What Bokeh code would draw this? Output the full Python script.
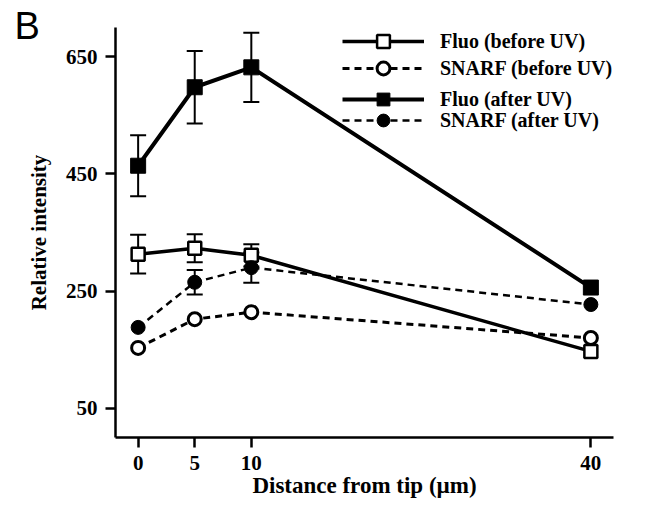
from bokeh.plotting import figure
from bokeh.models import (ColumnDataSource, Whisker, TeeHead, Legend, LegendItem,
                          FixedTicker, Range1d)
from bokeh.embed import file_html
from bokeh.resources import INLINE

# ---- data ----
distance = [0, 5, 10, 40]
fluo_before = [313, 323, 311, 147]
fluo_before_err = [33, 24, 19, 0]
snarf_before = [153, 202, 214, 170]
fluo_after = [464, 598, 632, 256]
fluo_after_err = [52, 62, 59, 0]
snarf_after = [188, 265, 290, 227]
snarf_after_err = [0, 21, 26, 0]

x_ticks = [0, 5, 10, 40]
y_ticks = [50, 250, 450, 650]

labels = ["Fluo (before UV)", "SNARF (before UV)", "Fluo (after UV)", "SNARF (after UV)"]

FONT = "Liberation Serif"

p = figure(width=652, height=509, output_backend="svg", toolbar_location=None,
           x_range=Range1d(-2, 42), y_range=Range1d(0, 700),
           min_border_left=115, min_border_right=39, min_border_top=27,
           min_border_bottom=72)
p.outline_line_color = None
p.grid.visible = False
p.background_fill_color = "white"

# panel letter as the title
p.title.text = "B"
p.title.align = "left"
p.title.offset = -101
p.title.standoff = -38
p.title.text_font = "Liberation Sans"
p.title.text_font_style = "normal"
p.title.text_font_size = "38px"
p.title.text_color = "black"

for ax in (p.xaxis[0], p.yaxis[0]):
    ax.axis_line_width = 2.5
    ax.axis_line_color = "black"
    ax.major_tick_line_width = 2.5
    ax.major_tick_in = 0
    ax.major_tick_out = 10
    ax.minor_tick_line_color = None
    ax.major_label_text_font = FONT
    ax.major_label_text_font_style = "bold"
    ax.major_label_text_font_size = "21px"
    ax.major_label_text_color = "black"
    ax.axis_label_text_font = FONT
    ax.axis_label_text_font_style = "bold"
    ax.axis_label_text_color = "black"

p.xaxis.axis_label_text_font_size = "23px"
p.yaxis.axis_label_text_font_size = "21px"
p.xaxis.ticker = FixedTicker(ticks=x_ticks)
p.yaxis.ticker = FixedTicker(ticks=y_ticks)
p.xaxis.axis_label = "Distance from tip (µm)"
p.yaxis.axis_label = "Relative intensity"
p.xaxis.major_label_standoff = 8
p.yaxis.major_label_standoff = 8
p.xaxis.axis_label_standoff = 0
p.yaxis.axis_label_standoff = 12


def add_errors(y, err):
    xs = [x for x, e in zip(distance, err) if e > 0]
    lo = [v - e for v, e in zip(y, err) if e > 0]
    hi = [v + e for v, e in zip(y, err) if e > 0]
    src = ColumnDataSource(dict(x=xs, lower=lo, upper=hi))
    w = Whisker(source=src, base="x", lower="lower", upper="upper",
                line_width=2, line_color="black",
                upper_head=TeeHead(size=16, line_width=2, line_color="black"),
                lower_head=TeeHead(size=16, line_width=2, line_color="black"))
    p.add_layout(w)


add_errors(fluo_after, fluo_after_err)
add_errors(fluo_before, fluo_before_err)
add_errors(snarf_after, snarf_after_err)

# lines
l_fb = p.line(distance, fluo_before, line_width=3.5, line_color="black")
l_sb = p.line(distance, snarf_before, line_width=3, line_color="black", line_dash="7 5")
l_fa = p.line(distance, fluo_after, line_width=4, line_color="black")
l_sa = p.line(distance, snarf_after, line_width=2.5, line_color="black", line_dash="7 5")

# markers
m_fb = p.scatter(distance, fluo_before, marker="square", size=13, fill_color="white",
                 line_color="black", line_width=2.5)
m_sb = p.scatter(distance, snarf_before, marker="circle", size=13, fill_color="white",
                 line_color="black", line_width=3)
m_fa = p.scatter(distance, fluo_after, marker="square", size=15, fill_color="black",
                 line_color="black", line_width=1)
m_sa = p.scatter(distance, snarf_after, marker="circle", size=14, fill_color="black",
                 line_color="black", line_width=1)


def make_legend(item, loc):
    lg = Legend(items=[item], location=loc, orientation="vertical",
                glyph_width=82, glyph_height=32, spacing=0,
                label_standoff=16, padding=0, margin=0,
                border_line_color=None, background_fill_alpha=0,
                label_text_font=FONT, label_text_font_style="bold",
                label_text_font_size="20px", label_text_color="black",
                label_height=20)
    p.add_layout(lg)


make_legend(LegendItem(label=labels[0], renderers=[l_fb, m_fb]), (227, 380))
make_legend(LegendItem(label=labels[1], renderers=[l_sb, m_sb]), (227, 353))
make_legend(LegendItem(label=labels[2], renderers=[l_fa, m_fa]), (227, 322))
make_legend(LegendItem(label=labels[3], renderers=[l_sa, m_sa]), (227, 301))

open("out.html", "w").write(file_html(p, INLINE))
